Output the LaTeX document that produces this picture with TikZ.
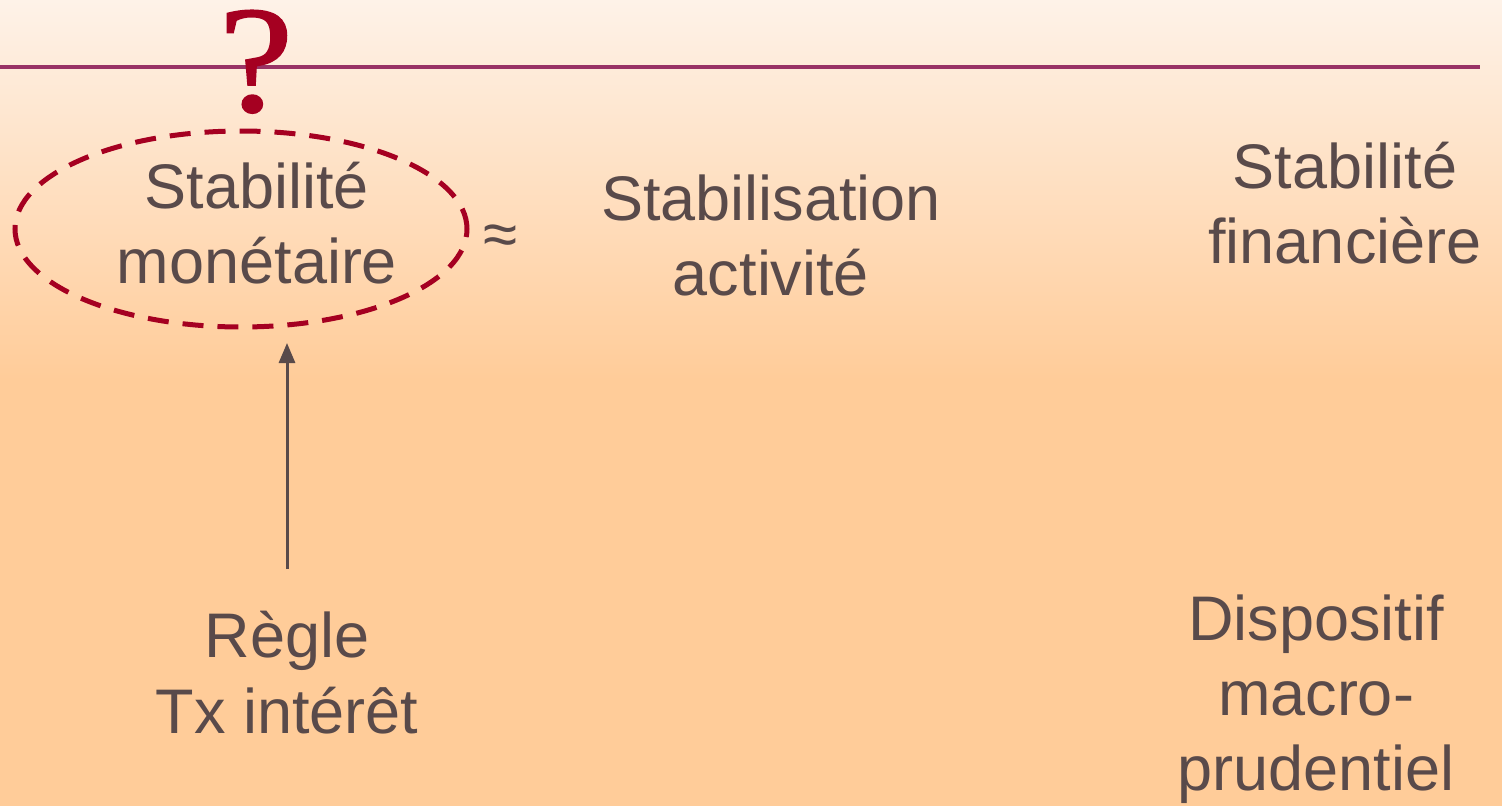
\documentclass[tikz,border=0pt]{standalone}
\usetikzlibrary{shapes.geometric,arrows.meta}
\usepackage{fontspec}
\setmainfont{Liberation Sans}
\newfontfamily\qfont[FakeBold=1.2]{Liberation Serif}
\definecolor{txt}{HTML}{594A4A}
\definecolor{redd}{HTML}{A50021}
\definecolor{linec}{HTML}{993366}
\definecolor{bgtop}{HTML}{FEF2E8}
\definecolor{bgbot}{HTML}{FFCC99}
\tikzset{
  lbl/.style={text=txt, font=\fontsize{63}{74}\selectfont, align=center, inner sep=0pt},
}
\begin{document}
\begin{tikzpicture}[x=1pt,y=-1pt]
\useasboundingbox (0,0) rectangle (1502,806);
\shade[top color=bgtop, bottom color=bgbot] (0,0) rectangle (1502,380);
\fill[bgbot] (0,379.5) rectangle (1502,806);
\draw[linec, line width=4pt] (0,67) -- (1480,67);
\node[text=redd, font=\qfont\fontsize{152}{152}\selectfont, anchor=base, inner sep=0pt, xscale=1.1] (q) at (256,111) {?};
\node[draw=redd, line width=5pt, dash pattern=on 21pt off 14pt, ellipse, minimum width=452pt, minimum height=196pt, inner sep=0pt] (ell) at (241,229) {};
\node[lbl, anchor=base] (sm1) at (257,208) {Stabilité};
\node[lbl, anchor=base] (sm2) at (257,283) {monétaire};
\node[lbl, font=\fontsize{62}{70}\selectfont] (approx) at (501,240) {≈};
\node[lbl, anchor=base] (sa1) at (771,220) {Stabilisation};
\node[lbl, anchor=base] (sa2) at (771,295) {activité};
\node[lbl, anchor=base] (sf1) at (1345,188) {Stabilité};
\node[lbl, anchor=base] (sf2) at (1345,263) {financière};
\node[lbl, anchor=base] (r1) at (287,657) {Règle};
\node[lbl, anchor=base] (r2) at (287,733) {Tx intérêt};
\node[lbl, anchor=base] (d1) at (1316,640) {Dispositif};
\node[lbl, anchor=base] (d2) at (1316,715) {macro-};
\node[lbl, anchor=base] (d3) at (1316,790) {prudentiel};
\coordinate (arrs) at (287,569);
\coordinate (arre) at (287,343);
\draw[txt, line width=3pt, -{Triangle[length=20pt,width=16pt]}] (arrs) -- (arre);
\end{tikzpicture}
\end{document}
